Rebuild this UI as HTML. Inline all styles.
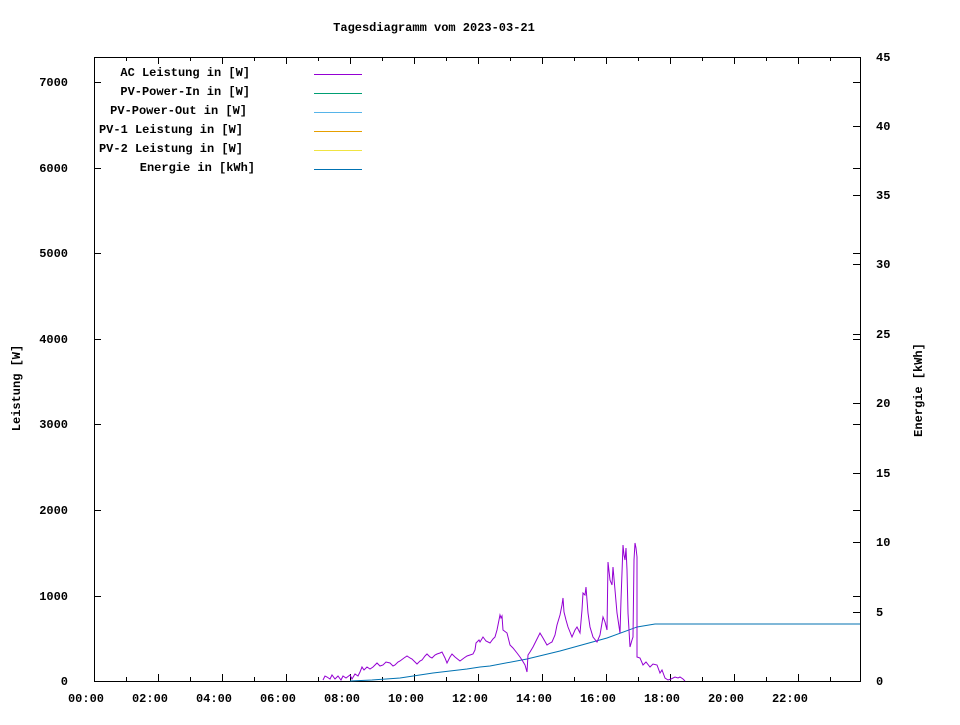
<!DOCTYPE html>
<html><head><meta charset="utf-8"><style>
html,body{margin:0;padding:0;background:#fff;}
svg text{font-family:"Liberation Mono","DejaVu Sans Mono",monospace;font-weight:bold;font-size:12px;fill:#000;}
</style></head><body>
<svg width="960" height="720" xmlns="http://www.w3.org/2000/svg">
<rect width="960" height="720" fill="#fff"/>
<text x="434" y="31" text-anchor="middle">Tagesdiagramm vom 2023-03-21</text>
<rect x="94.5" y="57.5" width="766" height="624" fill="none" stroke="#000" stroke-width="1"/>
<g stroke="#000" stroke-width="1">
<!-- left/right mirrored y ticks -->
<path d="M94 596.5h7M94 510.5h7M94 424.5h7M94 339.5h7M94 253.5h7M94 168.5h7M94 82.5h7
M860 596.5h-7M860 510.5h-7M860 424.5h-7M860 339.5h-7M860 253.5h-7M860 168.5h-7M860 82.5h-7"/>
<!-- y2 ticks -->
<path d="M860 612.5h-7M860 542.5h-7M860 473.5h-7M860 403.5h-7M860 334.5h-7M860 264.5h-7M860 195.5h-7M860 126.5h-7M860 57.5h-7"/>
<!-- x ticks -->
<path d="M158.5 681v-7M222.5 681v-7M286.5 681v-7M350.5 681v-7M414.5 681v-7M478.5 681v-7M542.5 681v-7M606.5 681v-7M670.5 681v-7M734.5 681v-7M798.5 681v-7
M126.5 681v-4M190.5 681v-4M254.5 681v-4M318.5 681v-4M382.5 681v-4M446.5 681v-4M510.5 681v-4M574.5 681v-4M638.5 681v-4M702.5 681v-4M766.5 681v-4M830.5 681v-4
M158.5 57v7M222.5 57v7M286.5 57v7M350.5 57v7M414.5 57v7M478.5 57v7M542.5 57v7M606.5 57v7M670.5 57v7M734.5 57v7M798.5 57v7
M126.5 57v4M190.5 57v4M254.5 57v4M318.5 57v4M382.5 57v4M446.5 57v4M510.5 57v4M574.5 57v4M638.5 57v4M702.5 57v4M766.5 57v4M830.5 57v4"/>
</g>
<g text-anchor="end">
<text x="68" y="685">0</text><text x="68" y="600">1000</text><text x="68" y="514">2000</text><text x="68" y="428">3000</text><text x="68" y="343">4000</text><text x="68" y="257">5000</text><text x="68" y="172">6000</text><text x="68" y="86">7000</text>
</g>
<g>
<text x="876" y="685">0</text><text x="876" y="616">5</text><text x="876" y="546">10</text><text x="876" y="477">15</text><text x="876" y="407">20</text><text x="876" y="338">25</text><text x="876" y="268">30</text><text x="876" y="199">35</text><text x="876" y="130">40</text><text x="876" y="61">45</text>
</g>
<g text-anchor="middle">
<text x="86" y="702">00:00</text><text x="150" y="702">02:00</text><text x="214" y="702">04:00</text><text x="278" y="702">06:00</text><text x="342" y="702">08:00</text><text x="406" y="702">10:00</text><text x="470" y="702">12:00</text><text x="534" y="702">14:00</text><text x="598" y="702">16:00</text><text x="662" y="702">18:00</text><text x="726" y="702">20:00</text><text x="790" y="702">22:00</text>
</g>
<text transform="translate(20,388) rotate(-90)" text-anchor="middle">Leistung [W]</text>
<text transform="translate(922,390) rotate(-90)" text-anchor="middle">Energie [kWh]</text>
<g text-anchor="end">
<text x="250" y="76">AC Leistung in [W]</text>
<text x="250" y="95">PV-Power-In in [W]</text>
<text x="247" y="114">PV-Power-Out in [W]</text>
<text x="243" y="133">PV-1 Leistung in [W]</text>
<text x="243" y="152">PV-2 Leistung in [W]</text>
<text x="255" y="171">Energie in [kWh]</text>
</g>
<g stroke-width="1">
<path d="M314 74.5h48" stroke="#9400d3"/>
<path d="M314 93.5h48" stroke="#009e73"/>
<path d="M314 112.5h48" stroke="#56b4e9"/>
<path d="M314 131.5h48" stroke="#e69f00"/>
<path d="M314 150.5h48" stroke="#f0e442"/>
<path d="M314 169.5h48" stroke="#0072b2"/>
</g>
<polyline fill="none" stroke="#0072b2" stroke-width="1" points="350,681 372,680 400,678 433,673 467,669 480,667 490,666 527,659 560,651 607,638 637,627 655,624 860,624"/>
<polyline fill="none" stroke="#9400d3" stroke-width="1" points="323,680 325,676 327,677 330,679 332,675 335,679 338,676 341,680 343,676 346,678 350,675 352,679 355,674 358,676 360,672 362,667 364,670 367,667 370,669 373,667 375,665 377,663 380,666 383,665 386,662 390,663 393,666 395,665 398,662 400,661 404,658 407,656 410,658 412,659 415,662 417,664 420,661 422,660 425,656 427,654 430,657 432,658 435,655 437,654 440,653 442,652 445,658 447,663 450,657 452,654 455,657 460,661 464,658 467,656 470,655 473,654 475,650 476,643 479,640 480,642 483,637 486,641 490,643 493,639 495,637 497,630 499,620 500,615 501,618 502,616 503,630 507,633 510,645 513,648 517,653 520,657 522,660 525,665 527,672 528,655 530,652 533,647 536,641 540,633 543,638 547,645 550,643 552,642 555,635 557,625 560,615 562,605 563,598 564,612 566,620 568,627 570,632 572,637 575,630 577,627 580,633 582,610 583,593 585,595 586,587 588,613 590,627 593,637 597,642 600,635 603,617 605,622 607,630 608,562 610,580 612,585 613,567 615,590 617,613 620,633 621,600 623,545 624,555 625,560 626,548 627,570 628,613 630,647 632,640 633,637 634,560 635,543 636,548 637,557 637,657 640,658 643,665 646,662 650,667 653,664 657,665 660,673 662,670 665,678 668,680 671,679 675,677 678,678 680,677 683,679 685,681"/>
</svg>
</body></html>
